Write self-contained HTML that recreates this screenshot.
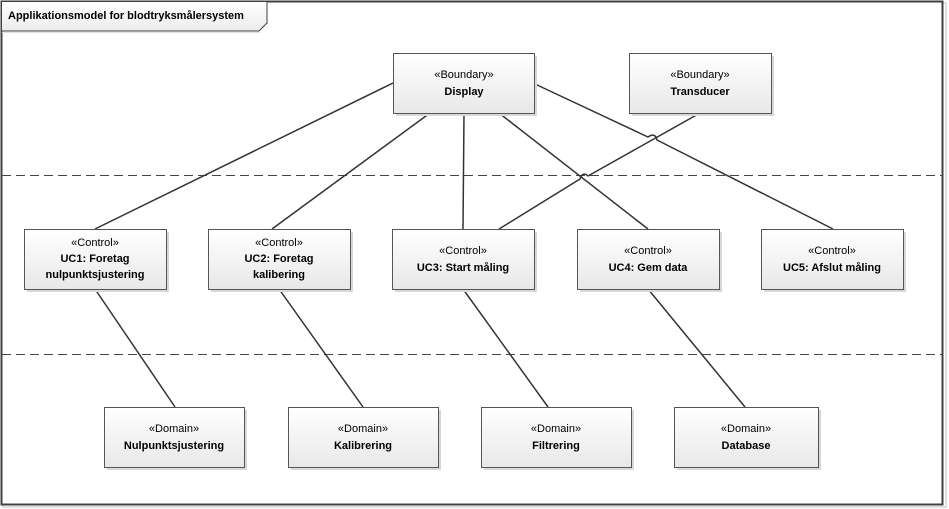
<!DOCTYPE html>
<html><head><meta charset="utf-8"><style>
html,body{margin:0;padding:0;background:#fff;width:949px;height:509px;overflow:hidden}
text{font-family:"Liberation Sans",sans-serif;font-size:11px;fill:#000}
.b{font-weight:bold}
</style></head><body>
<svg width="949" height="509" viewBox="0 0 949 509" xmlns="http://www.w3.org/2000/svg">
<defs>
<linearGradient id="g" x1="0" y1="0" x2="0" y2="1">
<stop offset="0" stop-color="#ffffff"/><stop offset="1" stop-color="#e8e8e8"/>
</linearGradient>
<linearGradient id="t" x1="0" y1="0" x2="0" y2="1">
<stop offset="0" stop-color="#ffffff"/><stop offset="1" stop-color="#ececec"/>
</linearGradient>
</defs>
<rect x="3" y="3" width="943" height="504" fill="none" stroke="#e0e0e0" stroke-width="2"/>
<rect x="1.5" y="1.5" width="941" height="503" fill="#fff" stroke="#404040" stroke-width="2"/>
<path d="M1.5 1.5 H267 V23 L259 31 H1.5 Z" fill="url(#t)" stroke="#404040" stroke-width="1"/>
<line x1="2" y1="32.5" x2="260" y2="32.5" stroke="#e0e0e0"/>
<text x="8" y="19" font-size="11.5" class="b">Applikationsmodel for blodtryksmålersystem</text>
<line x1="2" y1="175.5" x2="942" y2="175.5" stroke="#444" stroke-dasharray="9,5"/>
<line x1="2" y1="354.5" x2="942" y2="354.5" stroke="#444" stroke-dasharray="9,5"/>
<g stroke="#333" stroke-width="1.5" fill="none">
<line x1="393" y1="83" x2="95" y2="229"/>
<line x1="430" y1="113" x2="272" y2="229"/>
<line x1="464" y1="113" x2="463" y2="229"/>
<line x1="499" y1="113" x2="648" y2="229"/>
<path d="M535 84 L648 137 Q655 132 657 140 L833 229"/>
<path d="M700 113 L588 176 Q583 171 580 179 L499 229"/>
<line x1="95" y1="289" x2="175" y2="407"/>
<line x1="279" y1="289" x2="363" y2="407"/>
<line x1="463" y1="289" x2="548" y2="407"/>
<line x1="648" y1="289" x2="745" y2="407"/>
</g>
<g stroke="#555" stroke-width="1">
<g fill="#d8d8d8" stroke="none">
<rect x="396" y="56" width="141" height="60"/><rect x="632" y="56" width="142" height="60"/>
<rect x="27" y="232" width="142" height="60"/><rect x="211" y="232" width="142" height="60"/>
<rect x="395" y="232" width="142" height="60"/><rect x="580" y="232" width="142" height="60"/>
<rect x="764" y="232" width="142" height="60"/>
<rect x="107" y="410" width="140" height="60"/><rect x="291" y="410" width="150" height="60"/>
<rect x="484" y="410" width="150" height="60"/><rect x="677" y="410" width="144" height="60"/>
</g>
<g fill="url(#g)">
<rect x="393.5" y="53.5" width="141" height="60"/><rect x="629.5" y="53.5" width="142" height="60"/>
<rect x="24.5" y="229.5" width="142" height="60"/><rect x="208.5" y="229.5" width="142" height="60"/>
<rect x="392.5" y="229.5" width="142" height="60"/><rect x="577.5" y="229.5" width="142" height="60"/>
<rect x="761.5" y="229.5" width="142" height="60"/>
<rect x="104.5" y="407.5" width="140" height="60"/><rect x="288.5" y="407.5" width="150" height="60"/>
<rect x="481.5" y="407.5" width="150" height="60"/><rect x="674.5" y="407.5" width="144" height="60"/>
</g>
</g>
<g text-anchor="middle">
<text x="464" y="78">«Boundary»</text><text x="464" y="95" class="b">Display</text>
<text x="700" y="78">«Boundary»</text><text x="700" y="95" class="b">Transducer</text>
<text x="95" y="246">«Control»</text><text x="95" y="262" class="b">UC1: Foretag</text><text x="95" y="278" class="b">nulpunktsjustering</text>
<text x="279" y="246">«Control»</text><text x="279" y="262" class="b">UC2: Foretag</text><text x="279" y="278" class="b">kalibering</text>
<text x="463" y="254">«Control»</text><text x="463" y="271" class="b">UC3: Start måling</text>
<text x="648" y="254">«Control»</text><text x="648" y="271" class="b">UC4: Gem data</text>
<text x="832" y="254">«Control»</text><text x="832" y="271" class="b">UC5: Afslut måling</text>
<text x="174" y="432">«Domain»</text><text x="174" y="449" class="b">Nulpunktsjustering</text>
<text x="363" y="432">«Domain»</text><text x="363" y="449" class="b">Kalibrering</text>
<text x="556" y="432">«Domain»</text><text x="556" y="449" class="b">Filtrering</text>
<text x="746" y="432">«Domain»</text><text x="746" y="449" class="b">Database</text>
</g>
</svg>
</body></html>
